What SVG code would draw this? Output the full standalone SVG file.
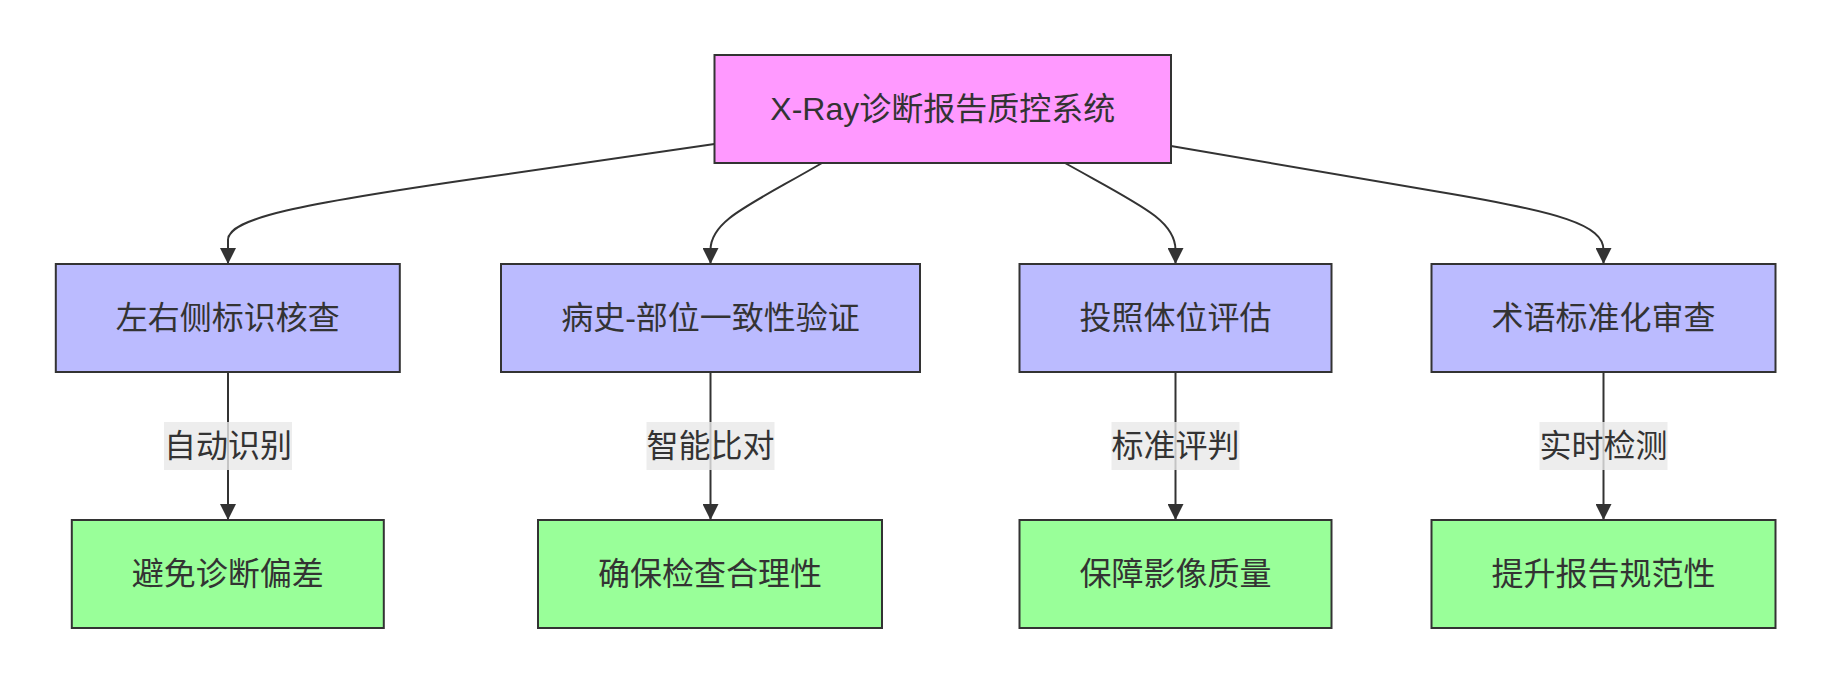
<svg xmlns="http://www.w3.org/2000/svg" width="1831" height="684" viewBox="0 0 1831 684">
<defs>
<style>
.node rect{stroke:#333;stroke-width:2}
.top rect{fill:#ff99ff}
.mid rect{fill:#bbbbff}
.bot rect{fill:#99ff99}
text{font-family:"Liberation Sans","Noto Sans CJK SC",sans-serif;font-size:32px;fill:#333;text-anchor:middle;dominant-baseline:central}
.edge{fill:none;stroke:#333;stroke-width:2}
.lbl rect{fill:#e8e8e8;fill-opacity:0.8}
</style>
<marker id="arrow" markerUnits="userSpaceOnUse" markerWidth="16" markerHeight="16" viewBox="0 0 16 16" refX="16" refY="8" orient="auto">
<path d="M0,0 L16,8 L0,16 z" fill="#333"/>
</marker>
</defs>
<rect width="1831" height="684" fill="#ffffff"/>
<g id="connectors">
<path class="edge" d="M714.5,144 L480,178 C300,204 228,218 228,240 L228,264" marker-end="url(#arrow)"/>
<path class="edge" d="M822,163 C750,205 710.5,220 710.5,250 L710.5,264" marker-end="url(#arrow)"/>
<path class="edge" d="M1065,163 C1140,205 1175.5,220 1175.5,250 L1175.5,264" marker-end="url(#arrow)"/>
<path class="edge" d="M1171,146 L1440,192 C1560,212 1603.5,225 1603.5,250 L1603.5,264" marker-end="url(#arrow)"/>
<path class="edge" d="M228,372 L228,520" marker-end="url(#arrow)"/>
<path class="edge" d="M710.5,372 L710.5,520" marker-end="url(#arrow)"/>
<path class="edge" d="M1175.5,372 L1175.5,520" marker-end="url(#arrow)"/>
<path class="edge" d="M1603.5,372 L1603.5,520" marker-end="url(#arrow)"/>
<g class="lbl"><rect x="164" y="422" width="128" height="48"/><text x="228" y="446">自动识别</text></g>
<g class="lbl"><rect x="646.5" y="422" width="128" height="48"/><text x="710.5" y="446">智能比对</text></g>
<g class="lbl"><rect x="1111.5" y="422" width="128" height="48"/><text x="1175.5" y="446">标准评判</text></g>
<g class="lbl"><rect x="1539.5" y="422" width="128" height="48"/><text x="1603.5" y="446">实时检测</text></g>
</g>
<g id="root" class="node top"><rect x="714.5" y="55" width="456.5" height="108"/><text x="942.75" y="109">X-Ray诊断报告质控系统</text></g>
<g id="lr" class="node mid"><rect x="55.8" y="264" width="344" height="108"/><text x="227.8" y="318">左右侧标识核查</text></g>
<g id="hist" class="node mid"><rect x="501" y="264" width="419" height="108"/><text x="710.5" y="318">病史-部位一致性验证</text></g>
<g id="pos" class="node mid"><rect x="1019.5" y="264" width="312" height="108"/><text x="1175.5" y="318">投照体位评估</text></g>
<g id="term" class="node mid"><rect x="1431.5" y="264" width="344" height="108"/><text x="1603.5" y="318">术语标准化审查</text></g>
<g id="bias" class="node bot"><rect x="71.8" y="520" width="312" height="108"/><text x="227.8" y="574">避免诊断偏差</text></g>
<g id="reason" class="node bot"><rect x="538" y="520" width="344" height="108"/><text x="710" y="574">确保检查合理性</text></g>
<g id="quality" class="node bot"><rect x="1019.5" y="520" width="312" height="108"/><text x="1175.5" y="574">保障影像质量</text></g>
<g id="norm" class="node bot"><rect x="1431.5" y="520" width="344" height="108"/><text x="1603.5" y="574">提升报告规范性</text></g>
</svg>
